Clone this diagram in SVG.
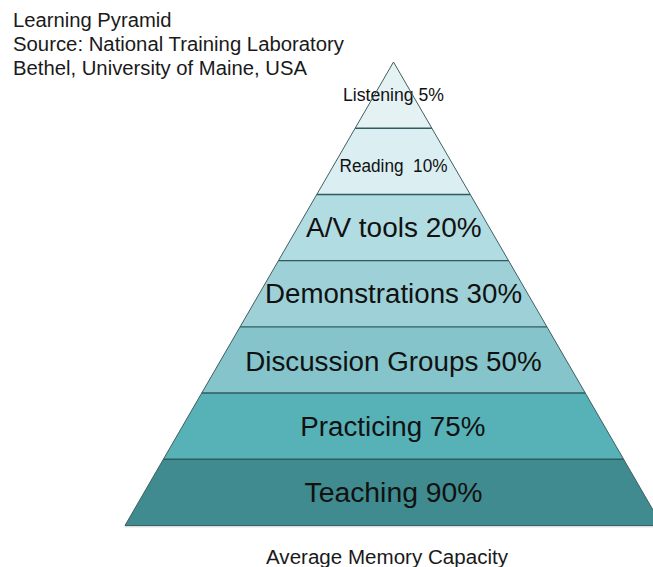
<svg xmlns="http://www.w3.org/2000/svg" width="653" height="567" viewBox="0 0 653 567">
  <style>
    .band { stroke: none; }
    .divider { stroke: #2f5b60; stroke-width: 1.4; fill: none; }
    .outline { stroke: #3f5f63; stroke-width: 1; fill: none; stroke-linejoin: miter; }
    .title { font-family: "Liberation Sans", Arial, sans-serif; font-size: 19.5px; fill: #1a1a1a; }
    .small { font-family: "Liberation Sans", Arial, sans-serif; font-size: 17.5px; fill: #111; text-anchor: middle; white-space: pre; }
    .big { font-family: "Liberation Sans", Arial, sans-serif; font-size: 27px; fill: #111; text-anchor: middle; }
    .caption { font-family: "Liberation Sans", Arial, sans-serif; font-size: 20px; fill: #1a1a1a; text-anchor: middle; }
  </style>

  <rect width="653" height="567" fill="#ffffff"/>

  <!-- heading -->
  <g id="heading">
    <text class="title" x="13" y="26.5" textLength="158.5" lengthAdjust="spacingAndGlyphs">Learning Pyramid</text>
    <text class="title" x="13" y="51" textLength="331" lengthAdjust="spacingAndGlyphs">Source: National Training Laboratory</text>
    <text class="title" x="13" y="75" textLength="294" lengthAdjust="spacingAndGlyphs">Bethel, University of Maine, USA</text>
  </g>

  <!-- pyramid tiers, top to bottom -->
  <g id="tier-listening">
    <polygon class="band" points="393.5,62 431.86,128.21 355.14,128.21" fill="#e5f2f4"/>
    <text class="small" x="393.5" y="100.7" textLength="101" lengthAdjust="spacingAndGlyphs">Listening 5%</text>
  </g>
  <g id="tier-reading">
    <polygon class="band" points="355.14,128.21 431.86,128.21 470.21,194.43 316.79,194.43" fill="#dbeef1"/>
    <text class="small" x="393.5" y="171.7" textLength="108" lengthAdjust="spacingAndGlyphs">Reading  10%</text>
  </g>
  <g id="tier-av">
    <polygon class="band" points="316.79,194.43 470.21,194.43 508.57,260.64 278.43,260.64" fill="#b1dce1"/>
    <text class="big" x="393.8" y="236.7" textLength="175.5" lengthAdjust="spacingAndGlyphs">A/V tools 20%</text>
  </g>
  <g id="tier-demonstrations">
    <polygon class="band" points="278.43,260.64 508.57,260.64 546.93,326.86 240.07,326.86" fill="#9dd1d7"/>
    <text class="big" x="393.5" y="302.8" textLength="257" lengthAdjust="spacingAndGlyphs">Demonstrations 30%</text>
  </g>
  <g id="tier-discussion">
    <polygon class="band" points="240.07,326.86 546.93,326.86 585.29,393.07 201.71,393.07" fill="#84c4ca"/>
    <text class="big" x="393.4" y="370.5" textLength="296.5" lengthAdjust="spacingAndGlyphs">Discussion Groups 50%</text>
  </g>
  <g id="tier-practicing">
    <polygon class="band" points="201.71,393.07 585.29,393.07 623.64,459.29 163.36,459.29" fill="#57b2b8"/>
    <text class="big" x="392.8" y="436" textLength="185" lengthAdjust="spacingAndGlyphs">Practicing 75%</text>
  </g>
  <g id="tier-teaching">
    <polygon class="band" points="163.36,459.29 623.64,459.29 662,525.5 125,525.5" fill="#3f8b8f"/>
    <text class="big" x="393.5" y="502" textLength="178" lengthAdjust="spacingAndGlyphs">Teaching 90%</text>
  </g>

  <!-- tier dividers and outer edge -->
  <g id="lines">
    <line class="divider" x1="355.14" y1="128.21" x2="431.86" y2="128.21"/>
    <line class="divider" x1="316.79" y1="194.43" x2="470.21" y2="194.43"/>
    <line class="divider" x1="278.43" y1="260.64" x2="508.57" y2="260.64"/>
    <line class="divider" x1="240.07" y1="326.86" x2="546.93" y2="326.86"/>
    <line class="divider" x1="201.71" y1="393.07" x2="585.29" y2="393.07"/>
    <line class="divider" x1="163.36" y1="459.29" x2="623.64" y2="459.29"/>
    <polygon class="outline" points="393.5,62 662,525.5 125,525.5"/>
    <line x1="125" y1="526.8" x2="662" y2="526.8" stroke="#c9d3d4" stroke-width="1"/>
  </g>

  <g id="caption">
    <text class="caption" x="387" y="564" textLength="242" lengthAdjust="spacingAndGlyphs">Average Memory Capacity</text>
  </g>
</svg>
